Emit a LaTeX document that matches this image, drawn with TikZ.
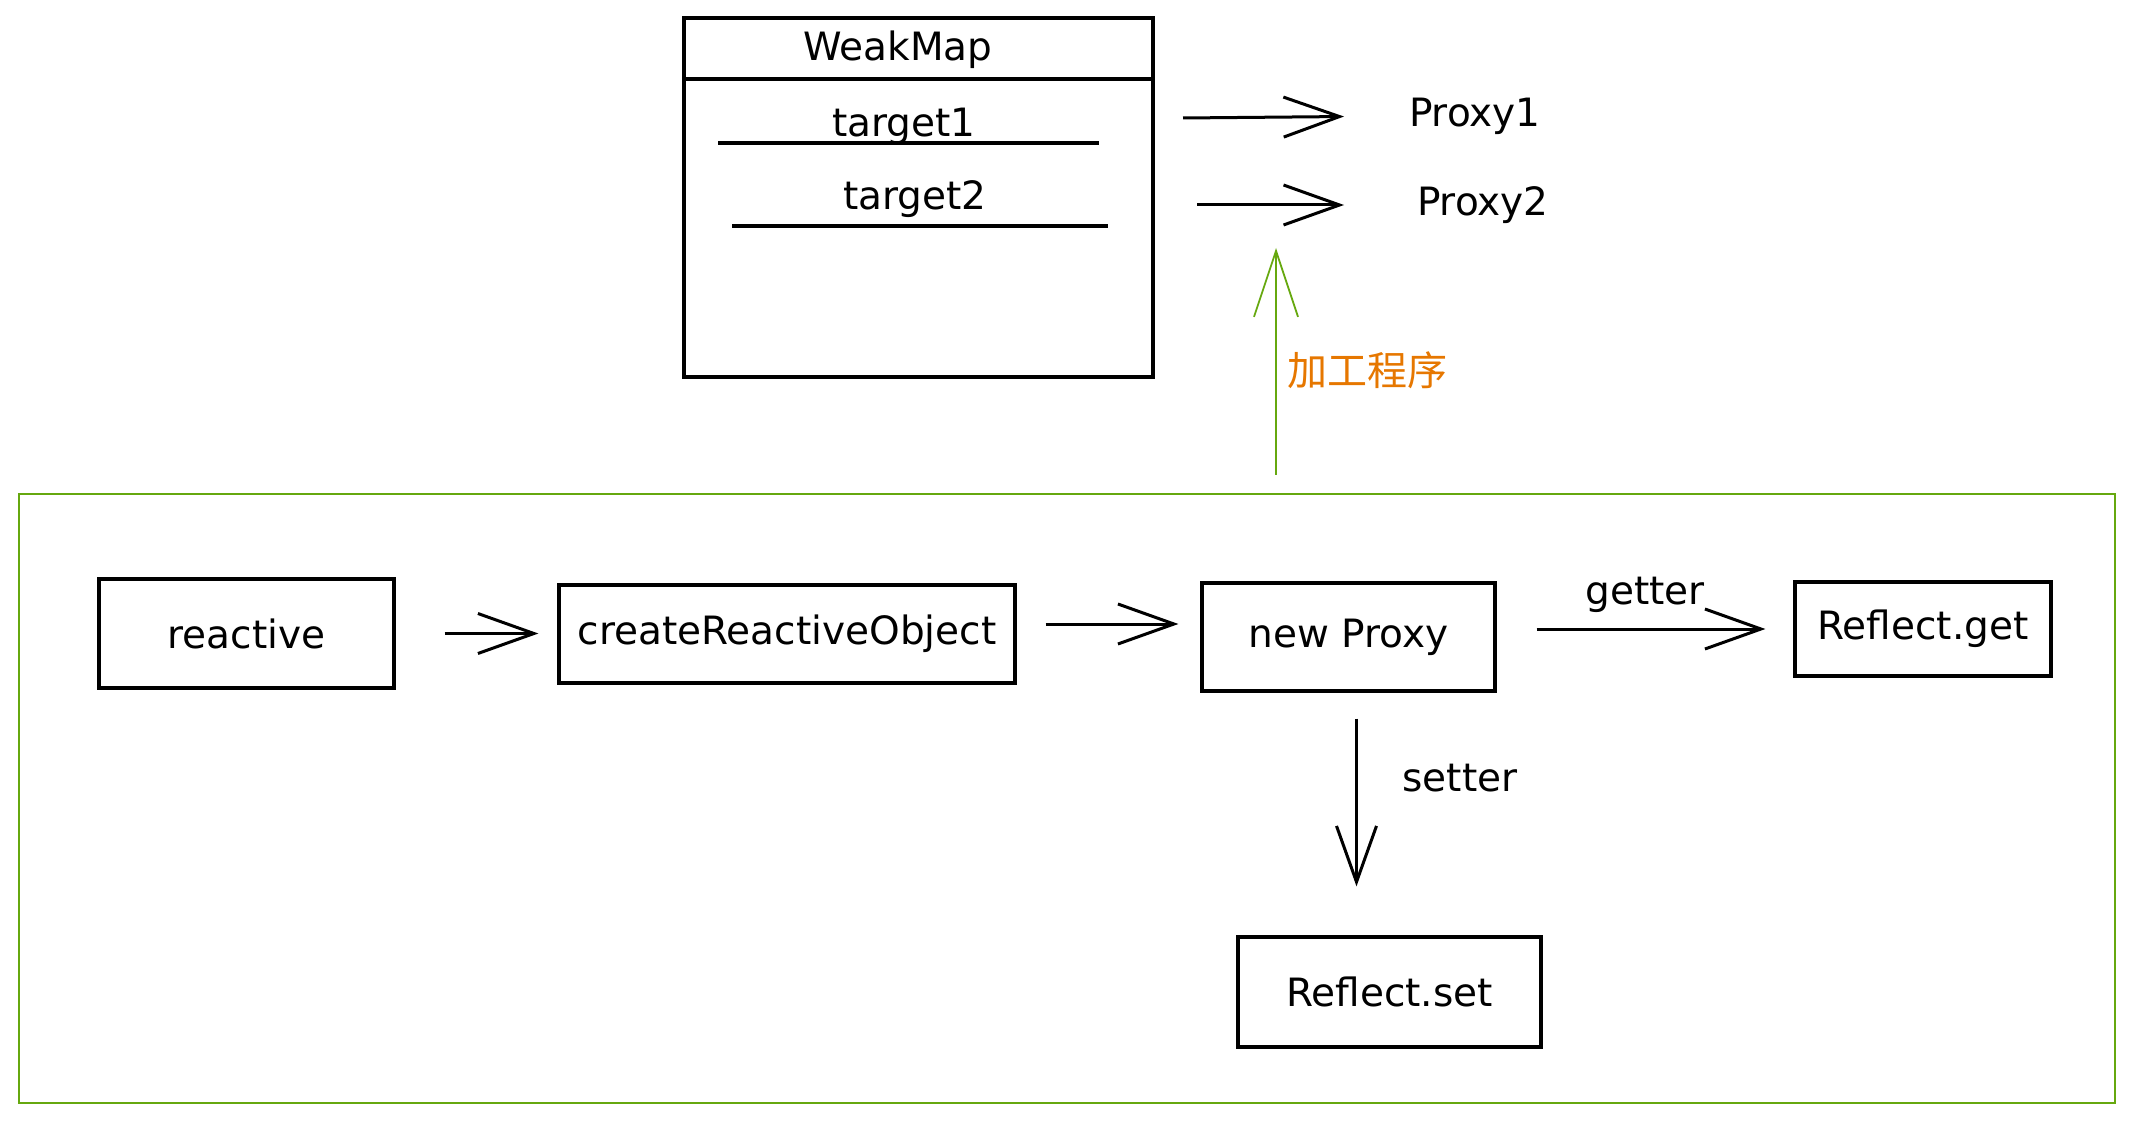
\documentclass[tikz,border=0pt]{standalone}
\usepackage{fontspec}
\setmainfont{DejaVu Sans}
\newfontfamily\cjk{Noto Sans CJK SC}
\usetikzlibrary{arrows.meta}
\definecolor{framegreen}{HTML}{66A80F}
\definecolor{labelorange}{HTML}{E67700}

\begin{document}
\begin{tikzpicture}
    [x=0.5pt, y=-0.5pt, >={Straight Barb[length=28pt, width=20pt]},
     font=\fontsize{19.5}{23}\selectfont,
     box/.style={rectangle, draw, line width=1.6pt},
     arr/.style={->, line width=1.5pt},
     garr/.style={->, draw=framegreen, line width=0.9pt, >={Straight Barb[length=33pt, width=22pt]}}]
    \useasboundingbox (0,0) rectangle (2132,1123);
    \begin{scope}
    \node[box, minimum width=234.5pt, minimum height=179.5pt] (wm) at (918.5,197.5) {};
    \draw[line width=1.6pt] (wm.west |- 0,79) -- (wm.east |- 0,79);
    \node (wmt) at (898,50) {WeakMap};
    \node (t1) at (904,126) {target1};
    \node (t2) at (915,199) {target2};
    \draw[line width=1.6pt] (718,143) -- (1099,143);
    \draw[line width=1.6pt] (732,226) -- (1108,226);
    \node[anchor=west] (p1) at (1402,116) {Proxy1};
    \node[anchor=west] (p2) at (1410,205) {Proxy2};
    \coordinate (s1) at (1183,118);
    \coordinate (s2) at (1197,205);
    \draw[arr, shorten >=29pt] (s1) -- (p1.west);
    \draw[arr, shorten >=33pt] (s2) -- (p2.west);
    \end{scope}
    \begin{scope}
    \node[draw=framegreen, line width=1.3pt, minimum width=1048pt, minimum height=304.5pt] (frame) at (1067,798.5) {};
    \node[box, minimum width=147.5pt, minimum height=54.5pt] (reactive) at (246.5,633.5) {reactive};
    \node[box, minimum width=228pt, minimum height=49pt] (create) at (787,634) {createReactiveObject};
    \node[box, minimum width=146.5pt, minimum height=54pt] (proxy) at (1348.5,637) {new Proxy};
    \node[box, minimum width=128pt, minimum height=47pt] (rget) at (1923,629) {Reflect.get};
    \node[box, minimum width=151.5pt, minimum height=55pt] (rset) at (1389.5,992) {Reflect.set};
    \draw[arr, shorten <=24.5pt, shorten >=9.5pt] (reactive.east) -- (reactive.east -| create.west);
    \draw[arr, shorten <=14.5pt, shorten >=11pt] ([yshift=5pt]create.east) -- ([yshift=5pt]create.east -| proxy.west);
    \draw[arr, shorten <=20pt, shorten >=14pt] (rget.west -| proxy.east) -- (rget.west)
        node[midway, above=4pt] (gt) {getter};
    \draw[arr, shorten <=13pt, shorten >=24.5pt] ([xshift=4pt]proxy.south) -- ([xshift=4pt]proxy.south |- rset.north)
        node[pos=0.35, right=19pt] (st) {setter};
    \end{scope}
    \coordinate (gtip) at (1276,248);
    \draw[garr, shorten <=9pt] (frame.north -| gtip) -- (gtip)
        node[midway, right=2pt, text=labelorange, font={\cjk\fontsize{20}{24}\selectfont}] (gl) {加工程序};
\end{tikzpicture}
\end{document}
